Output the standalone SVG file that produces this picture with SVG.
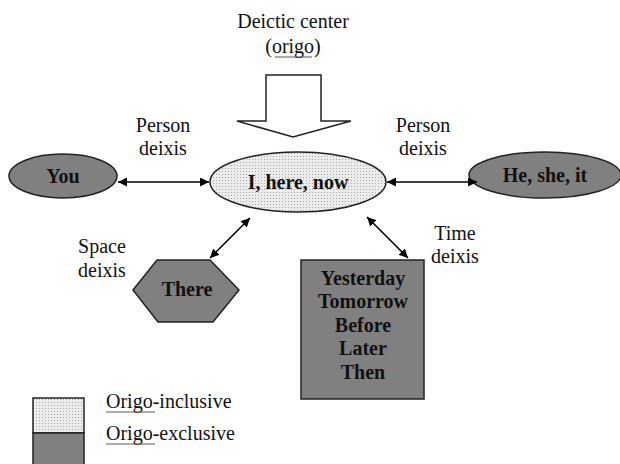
<svg xmlns="http://www.w3.org/2000/svg" width="620" height="464" viewBox="0 0 620 464">
<defs>
<pattern id="dots" width="3" height="3" patternUnits="userSpaceOnUse">
<rect width="3" height="3" fill="#ececec"/>
<rect x="0" y="0" width="1" height="1" fill="#a8a8a8"/>
</pattern>
<marker id="ah" viewBox="0 0 10 10" refX="10" refY="5" markerWidth="9" markerHeight="9" markerUnits="userSpaceOnUse" orient="auto-start-reverse">
<path d="M0,0 L10,5 L0,10 z" fill="#000"/>
</marker>
</defs>
<style>
.lbl{font-family:"Liberation Serif","Times New Roman",serif;font-size:20px;fill:#111;text-anchor:middle}
.bold{font-family:"Liberation Serif","Times New Roman",serif;font-size:20px;font-weight:bold;fill:#111;text-anchor:middle}
.dark{fill:#808080;stroke:#222;stroke-width:1.5}
.light{fill:url(#dots);stroke:#222;stroke-width:1.5}
.conn{stroke:#000;stroke-width:1.5;fill:none;marker-start:url(#ah);marker-end:url(#ah)}
.ul{stroke:#555;stroke-width:1}
</style>
<rect width="620" height="464" fill="#fff"/>

<g id="origo-label">
<text class="lbl" x="293" y="28">Deictic center</text>
<text class="lbl" x="293" y="53">(origo)</text>
<line class="ul" x1="275" y1="57" x2="312" y2="57"/>
</g>

<g id="origo-arrow">
<path d="M266,75 L321,75 L321,121 L351,121 L293,137 L237,121 L266,121 Z" fill="#fff" stroke="#222" stroke-width="1.5"/>
</g>

<g id="center">
<ellipse class="light" cx="298" cy="182" rx="88" ry="30"/>
<text class="bold" x="298" y="189">I, here, now</text>
</g>

<g id="you">
<ellipse class="dark" cx="63" cy="176" rx="54" ry="22"/>
<text class="bold" x="63" y="183">You</text>
</g>

<g id="hesheit">
<ellipse class="dark" cx="545" cy="175" rx="76" ry="23"/>
<text class="bold" x="545" y="182">He, she, it</text>
</g>

<g id="there">
<polygon class="dark" points="133,290 157,260 210,260 239,290 213,322 158,322"/>
<text class="bold" x="187" y="296">There</text>
</g>

<g id="time">
<rect class="dark" x="301" y="260" width="123" height="139"/>
<text class="bold" x="363" y="285">Yesterday</text>
<text class="bold" x="363" y="308">Tomorrow</text>
<text class="bold" x="363" y="332">Before</text>
<text class="bold" x="363" y="355">Later</text>
<text class="bold" x="363" y="379">Then</text>
</g>

<g id="connectors">
<line class="conn" x1="118" y1="182" x2="209" y2="182"/>
<line class="conn" x1="387" y1="182" x2="477" y2="182"/>
<line class="conn" x1="250" y1="218" x2="210" y2="258"/>
<line class="conn" x1="367" y1="217" x2="408" y2="258"/>
</g>

<g id="labels">
<text class="lbl" x="163" y="132">Person</text>
<text class="lbl" x="163" y="155">deixis</text>
<text class="lbl" x="423" y="132">Person</text>
<text class="lbl" x="423" y="155">deixis</text>
<text class="lbl" x="102" y="253">Space</text>
<text class="lbl" x="102" y="277">deixis</text>
<text class="lbl" x="455" y="240">Time</text>
<text class="lbl" x="455" y="263">deixis</text>
</g>

<g id="legend">
<rect class="light" x="33" y="398" width="51" height="35"/>
<rect class="dark" x="33" y="433" width="51" height="40"/>
<text class="lbl" x="106" y="408" style="text-anchor:start">Origo-inclusive</text>
<text class="lbl" x="106" y="440" style="text-anchor:start">Origo-exclusive</text>
<line class="ul" x1="106" y1="412" x2="155" y2="412"/>
<line class="ul" x1="106" y1="444" x2="155" y2="444"/>
</g>
</svg>
